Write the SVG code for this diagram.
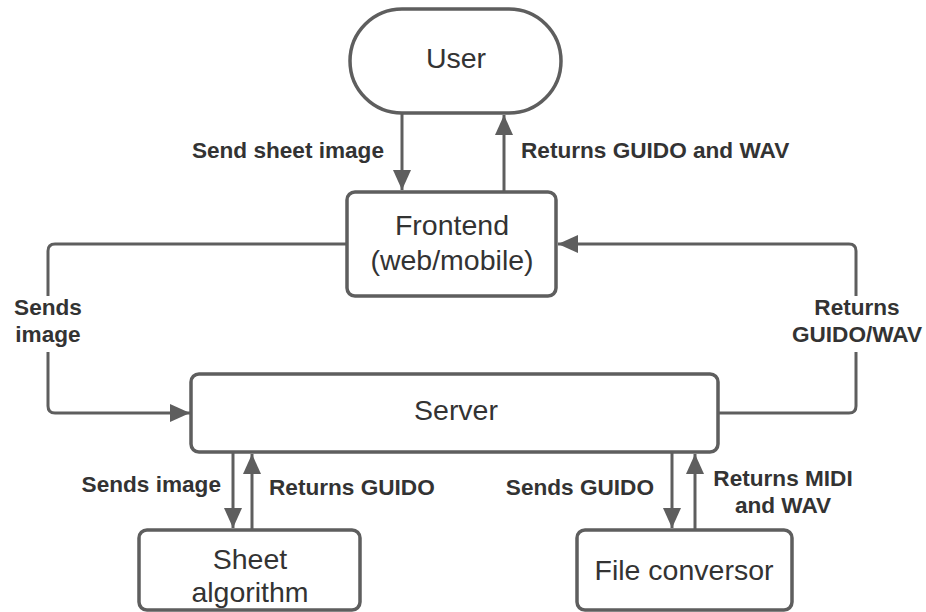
<svg xmlns="http://www.w3.org/2000/svg" width="926" height="612" viewBox="0 0 926 612">
<defs>
<marker id="ah" markerUnits="userSpaceOnUse" markerWidth="22" markerHeight="18" refX="20" refY="9" orient="auto">
<path d="M0,0 L20,9 L0,18 Z" fill="#5e5e5e"/>
</marker>
<style>
.box{fill:#fff;stroke:#5e5e5e;stroke-width:3.5}
.n{font-family:"Liberation Sans",Arial,sans-serif;font-size:28.5px;fill:#333;text-anchor:middle}
.l{font-family:"Liberation Sans",Arial,sans-serif;font-size:22.6px;font-weight:bold;fill:#333}
.c{fill:none;stroke:#5e5e5e;stroke-width:3}
</style>
</defs>
<rect width="926" height="612" fill="#fff"/>
<g id="connectors">
<path class="c" d="M402,114 V190" marker-end="url(#ah)"/>
<path class="c" d="M504,192 V115" marker-end="url(#ah)"/>
<path class="c" d="M347,244 H55 Q48,244 48,251 V406 Q48,413 55,413 H190" marker-end="url(#ah)"/>
<path class="c" d="M718,413 H849 Q856,413 856,406 V251 Q856,244 849,244 H558" marker-end="url(#ah)"/>
<path class="c" d="M233,452 V528" marker-end="url(#ah)"/>
<path class="c" d="M252,530 V454" marker-end="url(#ah)"/>
<path class="c" d="M672,452 V528" marker-end="url(#ah)"/>
<path class="c" d="M695,530 V454" marker-end="url(#ah)"/>
<rect x="8" y="296" width="80" height="56" fill="#fff"/>
<rect x="788" y="296" width="137" height="56" fill="#fff"/>
<text class="l" x="384" y="158" text-anchor="end">Send sheet image</text>
<text class="l" x="521" y="158">Returns GUIDO and WAV</text>
<text class="l" x="48" y="315" text-anchor="middle">Sends</text>
<text class="l" x="48" y="342" text-anchor="middle">image</text>
<text class="l" x="857" y="315" text-anchor="middle">Returns</text>
<text class="l" x="857" y="342" text-anchor="middle">GUIDO/WAV</text>
<text class="l" x="221" y="492" text-anchor="end">Sends image</text>
<text class="l" x="269" y="495">Returns GUIDO</text>
<text class="l" x="654" y="495" text-anchor="end">Sends GUIDO</text>
<text class="l" x="783" y="486" text-anchor="middle">Returns MIDI</text>
<text class="l" x="783" y="513" text-anchor="middle">and WAV</text>
</g>
<g id="user">
<rect class="box" x="350" y="9" width="211" height="104" rx="52" ry="52"/>
<text class="n" x="456" y="68">User</text>
</g>
<g id="frontend">
<rect class="box" x="347" y="192" width="209" height="104" rx="8"/>
<text class="n" x="452" y="235">Frontend</text>
<text class="n" x="452" y="270">(web/mobile)</text>
</g>
<g id="server">
<rect class="box" x="191" y="374" width="527" height="78" rx="8"/>
<text class="n" x="456" y="420">Server</text>
</g>
<g id="sheet">
<rect class="box" x="139" y="530" width="221" height="80" rx="8"/>
<text class="n" x="250" y="569">Sheet</text>
<text class="n" x="250" y="602">algorithm</text>
</g>
<g id="fileconversor">
<rect class="box" x="577" y="530" width="215" height="80" rx="8"/>
<text class="n" x="684" y="580">File conversor</text>
</g>
</svg>
